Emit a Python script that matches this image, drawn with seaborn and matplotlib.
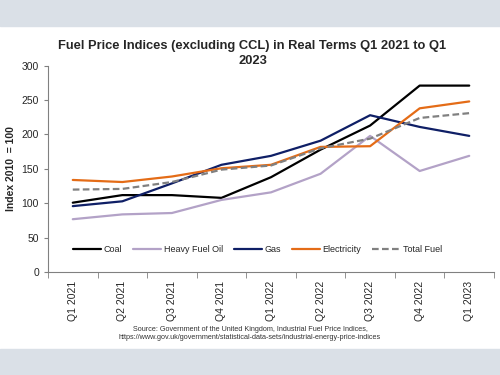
import pandas as pd
import numpy as np
import seaborn as sns
import matplotlib.pyplot as plt
from matplotlib.patches import Rectangle

## Data
quarters = ['Q1 2021', 'Q2 2021', 'Q3 2021', 'Q4 2021', 'Q1 2022',
            'Q2 2022', 'Q3 2022', 'Q4 2022', 'Q1 2023']
coal = [101, 112, 112, 108, 138, 178, 213, 271, 271]
heavy_fuel_oil = [77, 84, 86, 105, 116, 143, 198, 147, 169]
gas = [96, 103, 129, 156, 169, 191, 228, 211, 198]
electricity = [134, 131, 139, 151, 156, 182, 183, 238, 248]
total_fuel = [120, 121, 131, 149, 155, 180, 194, 224, 231]

series = {'Coal': coal, 'Heavy Fuel Oil': heavy_fuel_oil, 'Gas': gas,
          'Electricity': electricity, 'Total Fuel': total_fuel}
df = pd.DataFrame(series)
df['x'] = np.arange(len(quarters))
long = df.melt(id_vars='x', var_name='fuel', value_name='index')

palette = {'Coal': '#000000', 'Heavy Fuel Oil': '#b3a2c7', 'Gas': '#0f1f66',
           'Electricity': '#e46c17', 'Total Fuel': '#808080'}
dashes = {'Coal': '', 'Heavy Fuel Oil': '', 'Gas': '', 'Electricity': '',
          'Total Fuel': (3, 1.5)}

sns.set_style('white')
plt.rcParams['font.family'] = ['Liberation Sans', 'DejaVu Sans']

fig = plt.figure(figsize=(5, 3.75), dpi=100)
# grey bands top and bottom
fig.patches.append(Rectangle((0, 0.93), 1, 0.07, transform=fig.transFigure,
                             color='#dae0e7', zorder=0))
fig.patches.append(Rectangle((0, 0), 1, 0.07, transform=fig.transFigure,
                             color='#dae0e7', zorder=0))

ax = fig.add_axes([0.096, 0.274, 0.892, 0.551])
ax.patch.set_alpha(0)
sns.lineplot(data=long, x='x', y='index', hue='fuel', style='fuel',
             palette=palette, dashes=dashes, linewidth=1.6, ax=ax)

ax.set_xlim(-0.5, 8.5)
ax.set_ylim(0, 300)
ax.set_yticks(range(0, 301, 50))
ax.set_xticks(range(len(quarters)))
ax.set_xticklabels(quarters, rotation=90, fontsize=7.5)
ax.set_xticks(np.arange(-0.5, 9, 1), minor=True)
ax.tick_params(axis='x', which='major', length=0, pad=6)
ax.tick_params(axis='x', which='minor', length=4, color='#808080', direction='out', bottom=True)
ax.tick_params(axis='y', length=3, color='#808080', direction='out', left=True, labelsize=7.5)
ax.set_xlabel('')
ax.set_ylabel('Index 2010  = 100', fontsize=7.5, fontweight='bold', labelpad=4)
sns.despine(ax=ax)
for side in ['left', 'bottom']:
    ax.spines[side].set_color('#808080')
    ax.spines[side].set_linewidth(0.8)

ax.legend(loc='center', bbox_to_anchor=(0.47, 0.11), ncol=5, frameon=False,
          fontsize=6.5, handlelength=3.1, columnspacing=1.2, handletextpad=0.3)

fig.text(0.505, 0.858, 'Fuel Price Indices (excluding CCL) in Real Terms Q1 2021 to Q1\n2023',
         ha='center', va='center', fontsize=9.3, fontweight='bold', linespacing=1.3)
fig.text(0.5, 0.111, 'Source: Government of the United Kingdom, Industrial Fuel Price Indices,\n'
         'https://www.gov.uk/government/statistical-data-sets/industrial-energy-price-indices',
         ha='center', va='center', fontsize=5.2, color='#333333', linespacing=1.3)

plt.savefig('out.png', dpi=100)
